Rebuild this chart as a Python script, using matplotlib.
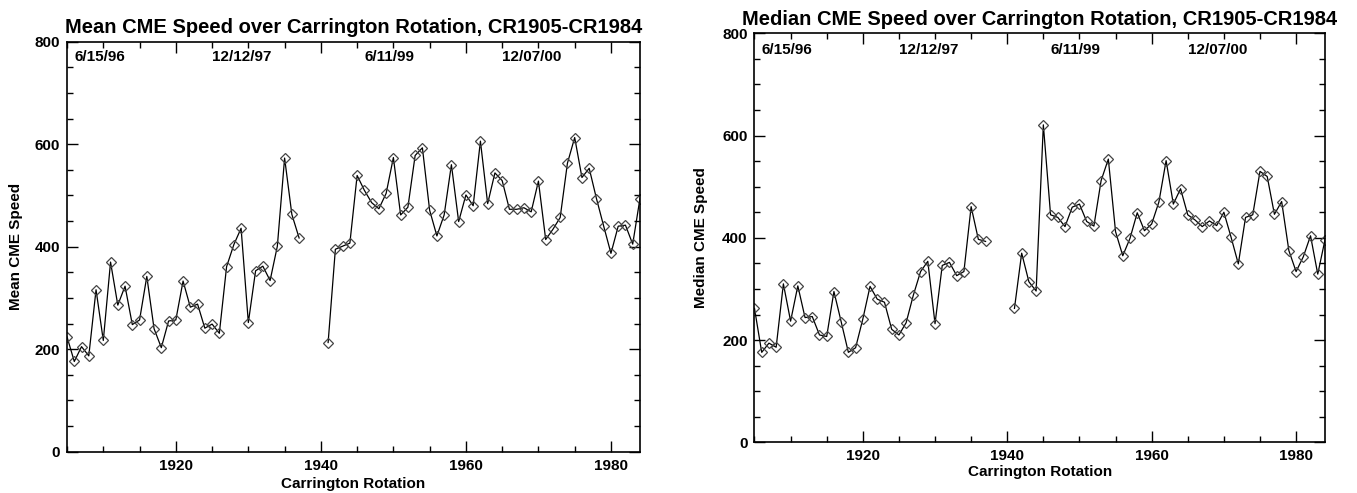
import numpy as np
import matplotlib
matplotlib.use('Agg')
import matplotlib.pyplot as plt
from matplotlib.ticker import MultipleLocator

# Carrington rotations CR1905-CR1984 (no data for 1938-1940)
rotations = list(range(1905, 1985))

mean_speed = [224, 176, 205, 187, 316, 217, 370, 286, 323, 248,
              257, 342, 240, 203, 255, 257, 333, 282, 288, 241,
              249, 231, 361, 404, 436, 252, 353, 362, 334, 401,
              573, 463, 417, None, None, None, 213, 395, 401, 407,
              539, 510, 486, 474, 504, 574, 462, 477, 578, 593,
              471, 421, 462, 560, 449, 501, 480, 606, 484, 544,
              529, 473, 473, 476, 468, 528, 414, 434, 457, 563,
              613, 535, 553, 494, 440, 387, 440, 442, 405, 494]

median_speed = [262, 176, 194, 186, 310, 237, 306, 244, 246, 210,
                207, 295, 236, 176, 185, 241, 305, 280, 274, 221,
                210, 234, 288, 334, 354, 232, 346, 352, 326, 334,
                461, 397, 393, None, None, None, 262, 370, 314, 296,
                621, 445, 440, 422, 460, 466, 432, 423, 512, 554,
                412, 365, 399, 449, 414, 427, 470, 551, 466, 496,
                445, 435, 422, 433, 424, 450, 401, 349, 440, 445,
                530, 520, 446, 471, 375, 334, 363, 404, 329, 396]

# date labels written inside the top of each panel
date_labels = ['6/15/96', '12/12/97', '6/11/99', '12/07/00']
date_cr = [1906, 1925, 1946, 1965]

mean_speed = np.array(mean_speed, dtype=float)
median_speed = np.array(median_speed, dtype=float)

plt.rcParams['font.family'] = ['Liberation Sans', 'DejaVu Sans']
plt.rcParams['font.weight'] = 'bold'

fig = plt.figure(figsize=(13.57, 4.93), dpi=100)
ax1 = fig.add_axes([0.0494, 0.0838, 0.4222, 0.8316])
ax2 = fig.add_axes([0.5560, 0.1028, 0.4204, 0.8296])


def draw_panel(ax, values, title, ylabel, label_y, xlabelpad, ylabelpad):
    ax.plot(rotations, values, color='black', linewidth=0.9,
            marker='D', markersize=5.6, markerfacecolor='none',
            markeredgecolor='#444444', markeredgewidth=0.9)
    ax.set_xlim(1905, 1984)
    ax.set_ylim(0, 800)
    ax.xaxis.set_major_locator(MultipleLocator(20))
    ax.xaxis.set_minor_locator(MultipleLocator(5))
    ax.yaxis.set_major_locator(MultipleLocator(200))
    ax.yaxis.set_minor_locator(MultipleLocator(50))
    ax.tick_params(which='both', direction='in', top=True, right=True,
                   width=1.0, labelsize=11, pad=5)
    ax.tick_params(which='major', length=8)
    ax.tick_params(which='minor', length=4)
    for s in ax.spines.values():
        s.set_linewidth(1.2)
    ax.set_title(title, fontsize=14.5, fontweight='bold', pad=6)
    ax.set_xlabel('Carrington Rotation', fontsize=11, fontweight='bold', labelpad=xlabelpad)
    ax.set_ylabel(ylabel, fontsize=11, fontweight='bold', labelpad=ylabelpad)
    for lab, cr in zip(date_labels, date_cr):
        ax.text(cr, label_y, lab, ha='left', va='center',
                fontsize=11, fontweight='bold')


draw_panel(ax1, mean_speed, 'Mean CME Speed over Carrington Rotation, CR1905-CR1984',
           'Mean CME Speed', 771, 3.5, 8)
draw_panel(ax2, median_speed, 'Median CME Speed over Carrington Rotation, CR1905-CR1984',
           'Median CME Speed', 767, 1, 10)

plt.savefig('out.png', dpi=100)
